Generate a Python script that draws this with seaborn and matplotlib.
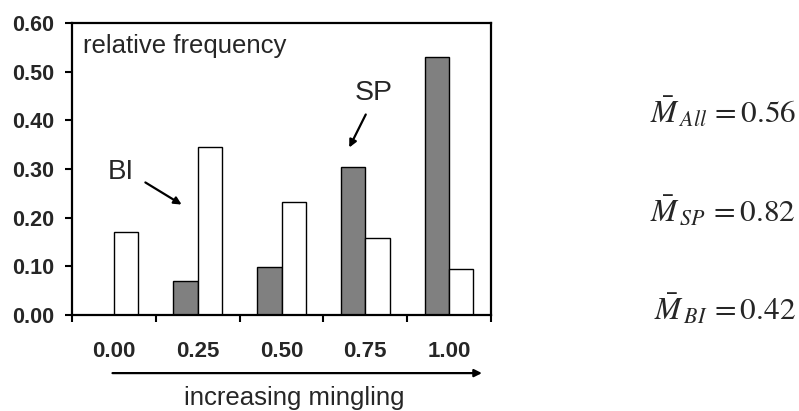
import matplotlib
matplotlib.use("Agg")
import matplotlib.pyplot as plt
import pandas as pd
import seaborn as sns

# Mingling classes and relative frequencies per species group
mingling = ["0.00", "0.25", "0.50", "0.75", "1.00"]
sp_freq = [0.00, 0.07, 0.098, 0.305, 0.53]
bi_freq = [0.17, 0.345, 0.233, 0.158, 0.095]
y_ticks = [0.0, 0.1, 0.2, 0.3, 0.4, 0.5, 0.6]
mean_labels = [r"$\bar{M}_{\,All}\, = 0.56$",
               r"$\bar{M}_{\,SP}\, = 0.82$",
               r"$\bar{M}_{\,BI}\, = 0.42$"]

df = pd.DataFrame({
    "mingling": mingling * 2,
    "freq": sp_freq + bi_freq,
    "group": ["SP"] * len(mingling) + ["BI"] * len(mingling),
})

sns.set_theme(style="ticks")
plt.rcParams["font.family"] = ["Liberation Sans", "DejaVu Sans"]
plt.rcParams["mathtext.fontset"] = "stix"

H = 411
fig = plt.figure(figsize=(7.99, 4.11), dpi=100)
ax = fig.add_axes([72 / 799, 1 - 315 / H, 419 / 799, 292 / H])

sns.barplot(data=df, x="mingling", y="freq", hue="group",
            order=mingling, hue_order=["SP", "BI"],
            palette={"SP": "#808080", "BI": "white"},
            edgecolor="black", linewidth=1.0, width=0.58,
            legend=False, ax=ax)

ax.set_xlim(-0.5, len(mingling) - 0.5)
ax.set_ylim(0, 0.6)
ax.set_xlabel("")
ax.set_ylabel("")

# Boundary ticks between classes, class labels centred under the bars
ax.set_xticks([i - 0.5 for i in range(len(mingling) + 1)])
ax.set_xticklabels([])
ax.set_xticks(range(len(mingling)), minor=True)
ax.set_xticklabels(mingling, minor=True, fontsize=16, fontweight="bold")
ax.tick_params(axis="x", which="major", direction="out", length=5,
               width=1.5, color="black")
ax.tick_params(axis="x", which="minor", length=0, pad=19)

ax.set_yticks(y_ticks)
ax.set_yticklabels([f"{v:.2f}" for v in y_ticks], fontsize=15.5,
                   fontweight="bold")
ax.tick_params(axis="y", direction="out", length=5, width=1.5,
               color="black", pad=8)

for side in ["left", "right", "top", "bottom"]:
    ax.spines[side].set_visible(True)
    ax.spines[side].set_linewidth(1.6)
    ax.spines[side].set_color("black")

ax.text(0.027, 0.92, "relative frequency", transform=ax.transAxes,
        fontsize=18.5, ha="left", va="center")

arrow_style = dict(arrowstyle="-|>", color="black", lw=1.6,
                   mutation_scale=11)

# Species labels with pointers to their bars
ax.text(0.085, 0.49, "BI", transform=ax.transAxes, fontsize=20,
        ha="left", va="center")
ax.annotate("", xy=(184, H - 206), xytext=(143, H - 181),
            xycoords="figure pixels", textcoords="figure pixels",
            arrowprops=arrow_style)
ax.text(0.675, 0.76, "SP", transform=ax.transAxes, fontsize=20.5,
        ha="left", va="center")
ax.annotate("", xy=(348, H - 150), xytext=(367, H - 112),
            xycoords="figure pixels", textcoords="figure pixels",
            arrowprops=arrow_style)

# Arrow and caption beneath the class labels
ax.annotate("", xy=(0.985, -0.199), xytext=(0.09, -0.199),
            xycoords="axes fraction", textcoords="axes fraction",
            annotation_clip=False, arrowprops=arrow_style)
ax.text(0.53, -0.284, "increasing mingling", transform=ax.transAxes,
        fontsize=18.5, ha="center", va="center")

# Mean mingling per group, right of the plot
for lbl, base in zip(mean_labels, [123, 222, 320]):
    fig.text(796 / 799, 1 - base / H, lbl, fontsize=22.5,
             ha="right", va="baseline")

fig.savefig("out.png", dpi=100)
